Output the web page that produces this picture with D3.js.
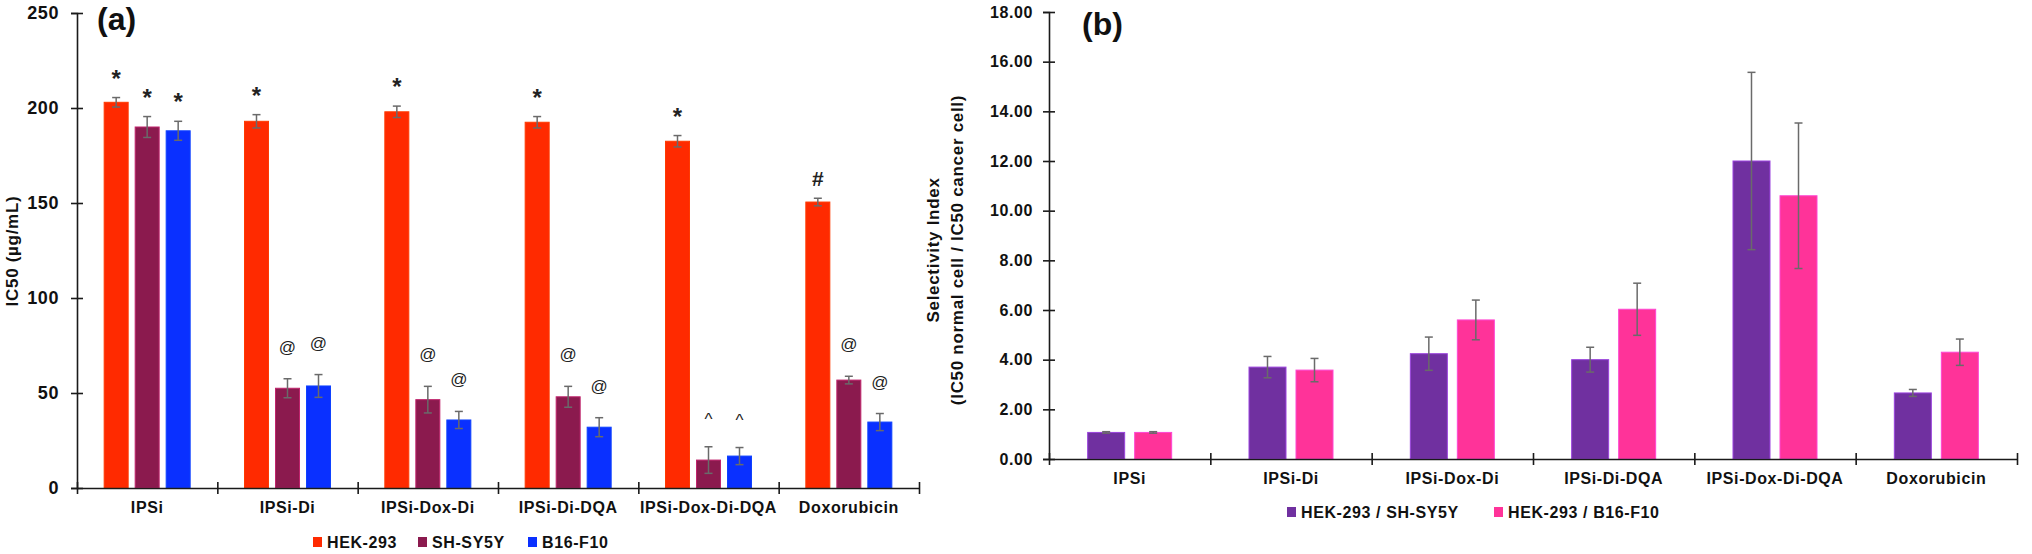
<!DOCTYPE html>
<html>
<head>
<meta charset="utf-8">
<script src="https://cdn.jsdelivr.net/npm/d3@7"></script>
<style>
  html, body { margin: 0; padding: 0; background: #fff; }
  svg text { font-family: "Liberation Sans", Arial, sans-serif; }
</style>
</head>
<body>
<svg id="chart" width="2032" height="554"></svg>
<script>
// categories shared by both panels
const categories = ['IPSi', 'IPSi-Di', 'IPSi-Dox-Di', 'IPSi-Di-DQA', 'IPSi-Dox-Di-DQA', 'Doxorubicin'];

// panel (a): IC50 values (ug/mL)
const ic50Series = ['HEK-293', 'SH-SY5Y', 'B16-F10'];
const hekIC50 = [203, 193, 198, 192.5, 182.5, 150.5];
const hekErr = [2.5, 3.5, 3, 3, 3, 2];
const shIC50 = [190, 52.5, 46.5, 48, 14.7, 56.8];
const shErr = [5.5, 5, 7, 5.5, 7, 2];
const b16IC50 = [188, 53.7, 35.8, 32, 16.8, 34.7];
const b16Err = [5, 6, 4.5, 5, 4.5, 4.5];
const hekMarks = ['*', '*', '*', '*', '*', '#'];
const shMarks = ['*', '@', '@', '@', '^', '@'];
const b16Marks = ['*', '@', '@', '@', '^', '@'];
const ic50Ticks = [0, 50, 100, 150, 200, 250];

// panel (b): selectivity index
const siSeries = ['HEK-293 / SH-SY5Y', 'HEK-293 / B16-F10'];
const siSH = [1.07, 3.7, 4.24, 4.0, 12.0, 2.66];
const siSHErr = [0.03, 0.43, 0.67, 0.5, 3.57, 0.14];
const siB16 = [1.07, 3.58, 5.6, 6.03, 10.6, 4.3];
const siB16Err = [0.03, 0.47, 0.8, 1.05, 2.93, 0.53];
const siTicks = [0, 2, 4, 6, 8, 10, 12, 14, 16, 18];

const svg = d3.select('#chart');
const axisColor = '#1a1a1a';
const errColor = '#6a6a6a';

// style of the significance marks: font size, weight, gap above error cap
const markStyle = {
  '*': { size: 24, weight: 'bold', gap: 11 },
  '#': { size: 21, weight: 'bold', gap: 12 },
  '@': { size: 17, weight: 'normal', gap: 26 },
  '^': { size: 17, weight: 'normal', gap: 22 },
};

function buildRows(seriesNames, values, errs, marks) {
  const rows = [];
  categories.forEach((cat, i) => {
    seriesNames.forEach((s, j) => {
      rows.push({ cat, series: s, value: values[j][i], err: errs[j][i], mark: marks ? marks[j][i] : null });
    });
  });
  return rows;
}

function drawPanel(opt) {
  const g = svg.append('g');
  const x0 = d3.scaleBand().domain(categories).range([opt.left, opt.right]);
  const cw = x0.bandwidth();
  const x1 = d3.scaleBand()
    .domain(opt.series)
    .range([cw / 2 - opt.groupHalf, cw / 2 + opt.groupHalf])
    .paddingInner(opt.innerPad);
  const y = d3.scaleLinear().domain(opt.domain).range([opt.bottom, opt.top]);
  const color = d3.scaleOrdinal().domain(opt.series).range(opt.colors);

  // bars
  g.selectAll('rect.bar')
    .data(opt.rows)
    .join('rect')
    .attr('class', 'bar')
    .attr('x', d => x0(d.cat) + x1(d.series))
    .attr('y', d => y(d.value))
    .attr('width', x1.bandwidth())
    .attr('height', d => y(0) - y(d.value))
    .attr('fill', d => color(d.series))
    .attr('stroke', d => d3.color(color(d.series)).brighter(0.9))
    .attr('stroke-width', 1);

  // error bars
  const eb = g.selectAll('g.err')
    .data(opt.rows)
    .join('g')
    .attr('class', 'err')
    .attr('stroke', errColor)
    .attr('stroke-width', 1.5);
  const cx = d => x0(d.cat) + x1(d.series) + x1.bandwidth() / 2;
  eb.append('line')
    .attr('x1', cx).attr('x2', cx)
    .attr('y1', d => y(d.value + d.err)).attr('y2', d => y(d.value - d.err));
  [1, -1].forEach(sign => {
    eb.append('line')
      .attr('x1', d => cx(d) - 4).attr('x2', d => cx(d) + 4)
      .attr('y1', d => y(d.value + sign * d.err)).attr('y2', d => y(d.value + sign * d.err));
  });

  // significance marks
  g.selectAll('text.mark')
    .data(opt.rows.filter(d => d.mark))
    .join('text')
    .attr('class', 'mark')
    .attr('x', cx)
    .attr('y', d => y(d.value + d.err) - markStyle[d.mark].gap)
    .attr('text-anchor', 'middle')
    .attr('font-size', d => markStyle[d.mark].size)
    .attr('font-weight', d => markStyle[d.mark].weight)
    .attr('fill', '#222')
    .text(d => d.mark);

  // y axis
  const yAxis = g.append('g')
    .attr('transform', `translate(${opt.left},0)`)
    .call(d3.axisLeft(y).tickValues(opt.ticks).tickFormat(opt.tickFormat)
      .tickSize(6).tickPadding(opt.tickPad));
  yAxis.select('.domain').attr('stroke', axisColor).attr('stroke-width', 1.6);
  yAxis.selectAll('.tick line').attr('x2', -6).attr('x1', 6)
    .attr('stroke', axisColor).attr('stroke-width', 1.6);
  yAxis.selectAll('.tick text')
    .attr('font-size', opt.tickFont).attr('font-weight', 'bold')
    .attr('fill', '#111').style('letter-spacing', '0.6px');

  // x axis: boundary ticks crossing the line
  const xb = d3.scaleLinear().domain([0, categories.length]).range([opt.left, opt.right]);
  const xAxis = g.append('g')
    .attr('transform', `translate(0,${opt.bottom})`)
    .call(d3.axisBottom(xb).tickValues(d3.range(categories.length + 1)).tickFormat('').tickSizeOuter(0));
  xAxis.select('.domain').attr('stroke', axisColor).attr('stroke-width', 1.6);
  xAxis.selectAll('.tick line').attr('y1', -6).attr('y2', 6)
    .attr('stroke', axisColor).attr('stroke-width', 1.6);

  // category labels
  const xLab = g.append('g')
    .attr('transform', `translate(0,${opt.bottom})`)
    .call(d3.axisBottom(x0).tickSize(0).tickPadding(14));
  xLab.select('.domain').remove();
  xLab.selectAll('.tick text')
    .attr('font-size', 16).attr('font-weight', 'bold')
    .attr('fill', '#111').style('letter-spacing', '0.6px');

  // panel letter
  g.append('text')
    .attr('x', opt.left + opt.letterDx).attr('y', opt.letterY)
    .attr('font-size', 32).attr('font-weight', 'bold').attr('fill', '#111')
    .text(opt.letter);

  // y title
  const yt = g.append('text')
    .attr('transform', `translate(${opt.titleX},${opt.titleY}) rotate(-90)`)
    .attr('text-anchor', 'middle')
    .attr('font-size', 17).attr('font-weight', 'bold').attr('fill', '#111')
    .style('letter-spacing', '0.7px');
  opt.title.forEach((line, i) => {
    yt.append('tspan').attr('x', 0).attr('dy', i === 0 ? 0 : 24).text(line);
  });

  // legend
  const lg = g.append('g')
    .selectAll('g')
    .data(opt.series)
    .join('g')
    .attr('transform', (d, i) => `translate(${opt.legendX[i]},${opt.legendY})`);
  lg.append('rect')
    .attr('x', 0).attr('y', -11).attr('width', 9).attr('height', 10)
    .attr('fill', d => color(d));
  lg.append('text')
    .attr('x', 14).attr('y', 0)
    .attr('font-size', 16).attr('font-weight', 'bold').attr('fill', '#111')
    .style('letter-spacing', '0.6px')
    .text(d => d);
}

drawPanel({
  series: ic50Series,
  rows: buildRows(ic50Series, [hekIC50, shIC50, b16IC50], [hekErr, shErr, b16Err], [hekMarks, shMarks, b16Marks]),
  colors: ['#ff2a00', '#8b1a4e', '#0a30ff'],
  left: 77, right: 919, top: 13, bottom: 488,
  groupHalf: 43, innerPad: 0.226,
  domain: [0, 250], ticks: ic50Ticks, tickFormat: d3.format('d'),
  tickFont: 18, tickPad: 12,
  letter: '(a)', letterDx: 20, letterY: 30,
  title: ['IC50 (µg/mL)'], titleX: 18, titleY: 251,
  legendX: [313, 418, 528], legendY: 548,
});

drawPanel({
  series: siSeries,
  rows: buildRows(siSeries, [siSH, siB16], [siSHErr, siB16Err], null),
  colors: ['#7030a0', '#ff3399'],
  left: 1049, right: 2017, top: 12, bottom: 459,
  groupHalf: 42, innerPad: 0.213,
  domain: [0, 18], ticks: siTicks, tickFormat: d3.format('.2f'),
  tickFont: 16, tickPad: 10,
  letter: '(b)', letterDx: 33, letterY: 35,
  title: ['Selectivity Index', '(IC50 normal cell / IC50 cancer cell)'], titleX: 939, titleY: 250,
  legendX: [1287, 1494], legendY: 518,
});
</script>
</body>
</html>
